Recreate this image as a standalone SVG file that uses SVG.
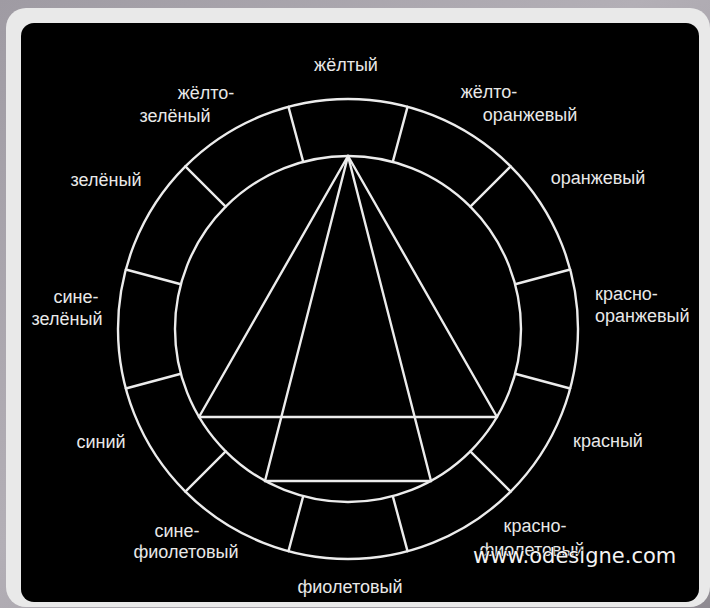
<svg xmlns="http://www.w3.org/2000/svg" width="710" height="608" viewBox="0 0 710 608">
  <defs>
    <linearGradient id="bg" x1="0" y1="0" x2="1" y2="1">
      <stop offset="0" stop-color="#9f9ba3"/>
      <stop offset="0.45" stop-color="#b3afb6"/>
      <stop offset="1" stop-color="#8f8b92"/>
    </linearGradient>
  </defs>
  <style>
    .ln { stroke: #ececec; stroke-width: 2.4; fill: none; stroke-linecap: round; }
    .lbl { font-family: "Liberation Sans", Arial, sans-serif; font-size: 18px; fill: #e8e8e8; }
    .mid { text-anchor: middle; }
    .wm { font-family: "DejaVu Sans", sans-serif; font-size: 21px; fill: #f4f4f4; stroke: #000; stroke-width: 1.2; paint-order: stroke; }
  </style>

  <rect x="0" y="0" width="710" height="608" fill="url(#bg)"/>
  <rect x="6" y="8" width="704" height="599" rx="20" fill="#e9e9e9"/>
  <rect x="21" y="23" width="678" height="579" rx="13" fill="#000"/>

  <g id="wheel">
    <circle class="ln" cx="348" cy="329" r="230"/>
    <circle class="ln" cx="348" cy="329" r="173"/>
    <g id="dividers">
      <line class="ln" x1="348" y1="156" x2="348" y2="99" transform="rotate(15 348 329)"/>
      <line class="ln" x1="348" y1="156" x2="348" y2="99" transform="rotate(45 348 329)"/>
      <line class="ln" x1="348" y1="156" x2="348" y2="99" transform="rotate(75 348 329)"/>
      <line class="ln" x1="348" y1="156" x2="348" y2="99" transform="rotate(105 348 329)"/>
      <line class="ln" x1="348" y1="156" x2="348" y2="99" transform="rotate(135 348 329)"/>
      <line class="ln" x1="348" y1="156" x2="348" y2="99" transform="rotate(165 348 329)"/>
      <line class="ln" x1="348" y1="156" x2="348" y2="99" transform="rotate(195 348 329)"/>
      <line class="ln" x1="348" y1="156" x2="348" y2="99" transform="rotate(225 348 329)"/>
      <line class="ln" x1="348" y1="156" x2="348" y2="99" transform="rotate(255 348 329)"/>
      <line class="ln" x1="348" y1="156" x2="348" y2="99" transform="rotate(285 348 329)"/>
      <line class="ln" x1="348" y1="156" x2="348" y2="99" transform="rotate(315 348 329)"/>
      <line class="ln" x1="348" y1="156" x2="348" y2="99" transform="rotate(345 348 329)"/>
    </g>
  </g>

  <g id="connectors">
    <line class="ln" x1="348" y1="156" x2="199" y2="417"/>
    <line class="ln" x1="348" y1="156" x2="497" y2="417"/>
    <line class="ln" x1="348" y1="156" x2="265" y2="481"/>
    <line class="ln" x1="348" y1="156" x2="431" y2="481"/>
    <line class="ln" x1="199" y1="417" x2="497" y2="417"/>
    <line class="ln" x1="265" y1="481" x2="431" y2="481"/>
  </g>

  <g id="labels">
    <g id="yellow"><text class="lbl mid" x="346" y="71">жёлтый</text></g>
    <g id="yellow-orange">
      <text class="lbl mid" x="489" y="98">жёлто-</text>
      <text class="lbl mid" x="530" y="121">оранжевый</text>
    </g>
    <g id="orange"><text class="lbl mid" x="598" y="184">оранжевый</text></g>
    <g id="red-orange">
      <text class="lbl" x="595" y="300">красно-</text>
      <text class="lbl" x="595" y="322">оранжевый</text>
    </g>
    <g id="red"><text class="lbl mid" x="608" y="447">красный</text></g>
    <g id="red-violet">
      <text class="lbl mid" x="535" y="532">красно-</text>
      <text class="lbl mid" x="532" y="556">фиолетовый</text>
    </g>
    <g id="violet"><text class="lbl mid" x="350" y="593">фиолетовый</text></g>
    <g id="blue-violet">
      <text class="lbl mid" x="177" y="537">сине-</text>
      <text class="lbl mid" x="186" y="558">фиолетовый</text>
    </g>
    <g id="blue"><text class="lbl mid" x="101" y="448">синий</text></g>
    <g id="blue-green">
      <text class="lbl mid" x="76" y="303">сине-</text>
      <text class="lbl mid" x="67" y="325">зелёный</text>
    </g>
    <g id="green"><text class="lbl mid" x="106" y="186">зелёный</text></g>
    <g id="yellow-green">
      <text class="lbl mid" x="206" y="99">жёлто-</text>
      <text class="lbl mid" x="175" y="122">зелёный</text>
    </g>
  </g>

  <g id="watermark"><text class="wm" x="473" y="563">www.odesigne.com</text></g>
</svg>
